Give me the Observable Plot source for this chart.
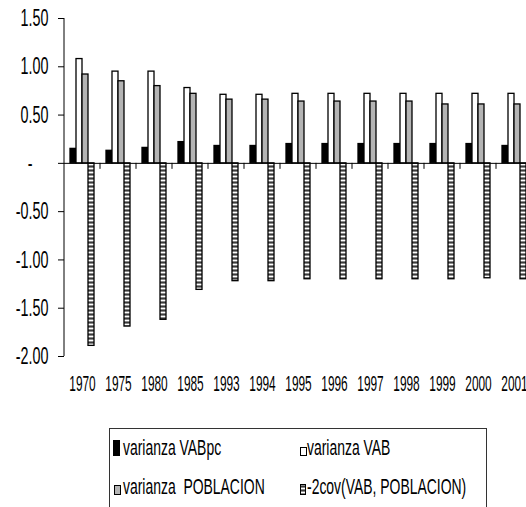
<!DOCTYPE html>
<html><head><meta charset="utf-8">
<script src="https://cdn.jsdelivr.net/npm/d3@7"></script>
<script src="https://cdn.jsdelivr.net/npm/@observablehq/plot@0.6"></script>
<style>
html,body{margin:0;padding:0;background:#fff;overflow:hidden;width:526px;height:507px;}
#chart{position:absolute;left:0;top:0;}
#chart svg{max-width:none !important;}
#legend{position:absolute;left:109px;top:428px;}
</style>
</head><body>
<svg width="0" height="0" style="position:absolute">
  <defs>
    <pattern id="hatch" patternUnits="userSpaceOnUse" width="8" height="4">
      <rect width="8" height="4" fill="#8a8a8a"/>
      <rect width="8" height="1" fill="#ffffff"/>
      <rect y="2" width="8" height="1" fill="#3a3a3a"/>
    </pattern>
  </defs>
</svg>
<div id="chart"></div>
<div id="legend"></div>
<script>
const years = ["1970","1975","1980","1985","1993","1994","1995","1996","1997","1998","1999","2000","2001"];
const seriesNames = ["varianza VABpc","varianza VAB","varianza  POBLACION","-2cov(VAB, POBLACION)"];
const vabpc = [0.15,0.13,0.16,0.22,0.18,0.18,0.20,0.20,0.20,0.20,0.20,0.20,0.18];
const vab   = [1.08,0.95,0.95,0.78,0.71,0.71,0.72,0.72,0.72,0.72,0.72,0.72,0.72];
const pob   = [0.92,0.85,0.80,0.72,0.66,0.66,0.64,0.64,0.64,0.64,0.61,0.61,0.61];
const cov   = [-1.89,-1.69,-1.62,-1.31,-1.22,-1.22,-1.20,-1.20,-1.20,-1.20,-1.20,-1.19,-1.20];
const yTicks = [-2,-1.5,-1,-0.5,0,0.5,1,1.5];

const valuesBySeries = [vabpc, vab, pob, cov];
const fills = ["#000000","#ffffff","#b4b4b4","url(#hatch)"];
const data = [];
years.forEach((yr,i) => seriesNames.forEach((s,j) => data.push({year: yr, series: s, value: valuesBySeries[j][i]})));

const FONT = '"Liberation Sans",Arial,sans-serif';

const chart = Plot.plot({
  width: 534, height: 428,
  marginLeft: 61, marginRight: 0, marginTop: 18, marginBottom: 72,
  style: {fontFamily: FONT, fontSize: "17px", color: "#000", background: "transparent"},
  fx: {domain: years, padding: 0, label: null},
  x: {domain: seriesNames, axis: null, paddingInner: 0, paddingOuter: 0.8},
  y: {domain: [-2, 1.5], label: null},
  marks: [
    ...seriesNames.map((s,j) => Plot.barY(data.filter(d => d.series === s), {
      fx: "year", x: "series", y: "value", fill: fills[j], stroke: "#000", strokeWidth: 1.3
    })),
    Plot.ruleY([0], {stroke: "#000", strokeWidth: 1}),
    Plot.axisY({ticks: yTicks, tickSize: 6, tickPadding: 10, fontSize: 17.5,
      tickFormat: v => v === 0 ? "-\u2007\u2007" : v.toFixed(2)}),
    Plot.axisFx({anchor: "bottom", tickSize: 0, tickPadding: 21, fontSize: 14.5, label: null})
  ]
});
chart.style.maxWidth = "none";
document.getElementById("chart").appendChild(chart);

// axis line and category boundary ticks, from the plot's own scales
const ys = chart.scale("y"), fxs = chart.scale("fx");
const svg = d3.select(chart);
const x0 = fxs.apply(years[0]);
svg.append("line").attr("x1", x0).attr("x2", x0)
  .attr("y1", ys.apply(1.5)).attr("y2", ys.apply(-2)).attr("stroke", "#000");
years.slice(1).forEach(yr => {
  const xx = fxs.apply(yr);
  svg.append("line").attr("x1", xx).attr("x2", xx)
    .attr("y1", ys.apply(0)).attr("y2", ys.apply(0) + 6).attr("stroke", "#000");
});

// condensed, vertically stretched text like the original
function stretch(root, sel, sx, sy) {
  root.querySelectorAll(sel).forEach(t => {
    const b = t.getBBox();
    const anchor = getComputedStyle(t).textAnchor;
    const cx = anchor === "end" ? b.x + b.width : anchor === "middle" ? b.x + b.width / 2 : b.x;
    const cy = b.y + b.height / 2;
    const tr = t.getAttribute("transform") || "";
    t.setAttribute("transform", `${tr} translate(${cx},${cy}) scale(${sx},${sy}) translate(${-cx},${-cy})`);
  });
}
stretch(chart, "g[aria-label='y-axis tick label'] text", 0.82, 1.33);
stretch(chart, "g[aria-label='fx-axis tick label'] text", 0.82, 1.55);

// legend
const lg = d3.select("#legend").append("svg").attr("width", 380).attr("height", 80)
  .style("font-family", FONT).style("font-size", "17px");
lg.append("rect").attr("x", 0.5).attr("y", 0.5).attr("width", 377).attr("height", 120)
  .attr("fill", "#fff").attr("stroke", "#333");
const items = [
  {name: seriesNames[0], fill: fills[0], sx: 4, sw: 6, sh: 15, tx: 14, base: 27},
  {name: "varianza VAB", fill: fills[1], sx: 191, sw: 6, sh: 8, tx: 198, base: 27},
  {name: seriesNames[2], fill: fills[2], sx: 5, sw: 6, sh: 9, tx: 14, base: 66},
  {name: seriesNames[3], fill: fills[3], sx: 191, sw: 5, sh: 10, tx: 198, base: 66}
];
items.forEach(it => {
  lg.append("rect").attr("x", it.sx + 0.5).attr("y", it.base - it.sh + 0.5)
    .attr("width", it.sw).attr("height", it.sh).attr("fill", it.fill).attr("stroke", "#000");
  lg.append("text").attr("x", it.tx).attr("y", it.base).attr("fill", "#000")
    .attr("transform", `translate(${it.tx},${it.base}) scale(0.82,1.3) translate(${-it.tx},${-it.base})`)
    .style("white-space", "pre").text(it.name);
});
</script>
</body></html>
